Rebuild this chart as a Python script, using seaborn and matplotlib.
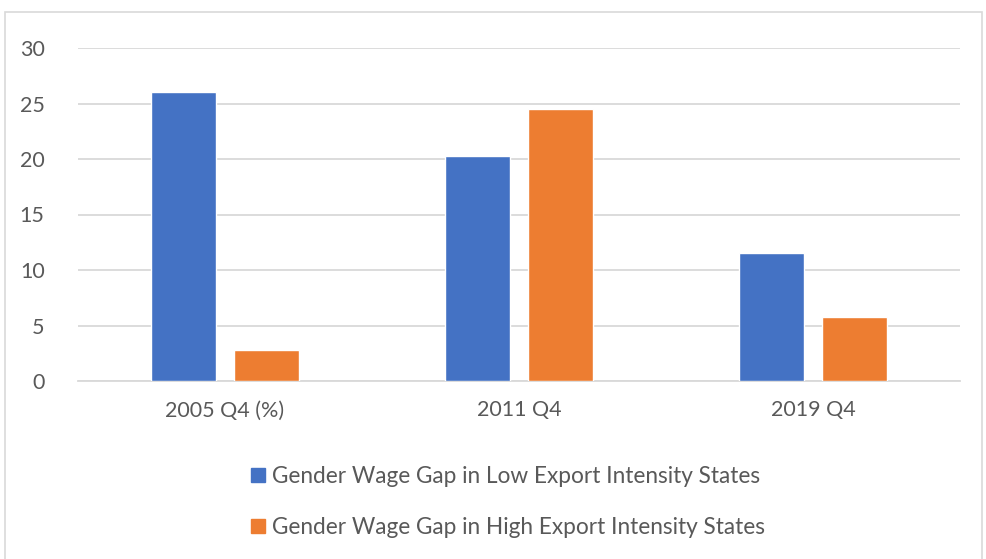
import pandas as pd
import seaborn as sns
import matplotlib.pyplot as plt
from matplotlib.patches import Rectangle

# values
periods = ["2005 Q4 (%)", "2011 Q4", "2019 Q4"]
low_export = [26.0, 20.3, 11.5]
high_export = [2.8, 24.5, 5.8]
series_names = ["Gender Wage Gap in Low Export Intensity States",
                "Gender Wage Gap in High Export Intensity States"]
colors = ["#4472C4", "#ED7D31"]

# long table for seaborn
df = pd.DataFrame({
    "Period": periods * 2,
    "Gap": low_export + high_export,
    "Series": [series_names[0]] * 3 + [series_names[1]] * 3,
})

sns.set_style("white")
plt.rcParams['font.family'] = ['Lato', 'DejaVu Sans']

fig = plt.figure(figsize=(9.87, 5.59), dpi=100)
ax = fig.add_axes([78 / 987, 1 - 381 / 559, 882 / 987, 333 / 559])

sns.barplot(data=df, x="Period", y="Gap", hue="Series", palette=colors,
            saturation=1, width=0.565, gap=0.22, ax=ax, legend=False, zorder=3)

ax.set_ylim(0, 30)
ax.set_xlim(-0.5, 2.5)
ax.set_yticks(range(0, 31, 5))
ax.yaxis.grid(True, color="#d9d9d9", linewidth=1.3, zorder=0)
ax.set_axisbelow(True)
for side in ["top", "right", "left"]:
    ax.spines[side].set_visible(False)
ax.spines["bottom"].set_color("#d9d9d9")
ax.spines["bottom"].set_linewidth(1.3)
ax.tick_params(axis="both", length=0, labelsize=15.5, labelcolor="#595959")
ax.tick_params(axis="y", pad=24)
ax.tick_params(axis="x", pad=14)
ax.set_xlabel("")
ax.set_ylabel("")

# legend stacked below the chart
handles = [Rectangle((0, 0), 1, 1, color=c) for c in colors]
fig.legend(handles, series_names, loc="center", bbox_to_anchor=(508 / 987, 1 - 502 / 559),
           ncol=1, frameon=False, fontsize=16.3, labelcolor="#595959",
           handlelength=0.6, handleheight=0.6, handletextpad=0.3, labelspacing=1.3)

# light frame around the whole chart
fig.patches.append(Rectangle((5 / 987, -0.01), 977 / 987, 1 - 12 / 559 + 0.01,
                             transform=fig.transFigure, fill=False,
                             edgecolor="#d9d9d9", linewidth=1.2))

fig.savefig("out.png", dpi=100)
